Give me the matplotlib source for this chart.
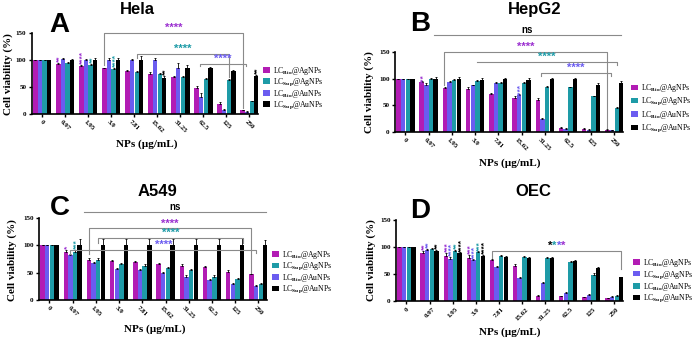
import matplotlib
matplotlib.use('Agg')
import matplotlib.pyplot as plt
import numpy as np

plt.rcParams['font.family'] = ['Liberation Serif', 'DejaVu Serif']
plt.rcParams['mathtext.fontset'] = 'custom'
plt.rcParams['mathtext.rm'] = 'Liberation Serif:bold'
plt.rcParams['mathtext.it'] = 'Liberation Serif:bold:italic'
plt.rcParams['mathtext.bf'] = 'Liberation Serif:bold'

categories = ['0', '0.97', '1.95', '3.9', '7.81', '15.62', '31.25', '62.5', '125', '250']

# bar order inside each group: magenta, violet, teal, black
# Panel A - Hela
hela_mag = [100, 92, 88, 85, 80, 75, 69, 49, 19, 7]
hela_vio = [100, 102, 100, 100, 100, 100, 86, 32, 7, 4]
hela_teal = [100, 94, 90, 84, 78, 74, 69, 65, 63, 24]
hela_blk = [100, 100, 100, 100, 100, 66, 86, 86, 79, 70]
hela_err = [[0, 3, 3, 1, 2, 2, 2, 2, 3, 1],
            [0, 2, 2, 3, 2, 3, 8, 6, 2, 1],
            [0, 2, 3, 2, 2, 2, 1, 2, 2, 1],
            [0, 2, 3, 3, 8, 4, 4, 1, 3, 2]]

# Panel B - HepG2
hepg2_mag = [100, 93, 82, 81, 72, 64, 60, 8, 6, 4]
hepg2_vio = [100, 89, 94, 88, 91, 69, 24, 6, 4, 3]
hepg2_teal = [100, 100, 98, 96, 92, 92, 85, 84, 67, 45]
hepg2_blk = [100, 100, 100, 98, 100, 98, 99, 99, 89, 92]
hepg2_err = [[0, 3, 2, 3, 2, 3, 3, 1, 1, 1],
             [0, 2, 2, 1, 2, 3, 2, 1, 1, 1],
             [0, 1, 1, 1, 2, 1, 1, 1, 1, 1],
             [0, 3, 3, 3, 2, 3, 2, 2, 2, 3]]

# Panel C - A549
a549_mag = [100, 88, 74, 72, 70, 65, 63, 61, 51, 47]
a549_vio = [100, 82, 67, 56, 54, 50, 43, 36, 30, 26]
a549_teal = [100, 88, 74, 66, 62, 58, 54, 43, 39, 29]
a549_blk = [100, 100, 100, 100, 100, 100, 100, 100, 100, 100]
a549_err = [[0, 4, 3, 2, 2, 3, 2, 2, 4, 1],
            [0, 2, 2, 3, 3, 2, 2, 2, 2, 1],
            [0, 3, 2, 1, 3, 2, 2, 2, 2, 2],
            [0, 12, 12, 12, 12, 12, 12, 12, 14, 10]]

# Panel D - OEC
oec_mag = [100, 88, 84, 80, 75, 65, 10, 9, 7, 5]
oec_vio = [100, 94, 78, 75, 63, 43, 33, 14, 12, 8]
oec_teal = [100, 96, 92, 90, 84, 82, 80, 73, 48, 10]
oec_blk = [100, 93, 88, 84, 82, 80, 80, 74, 62, 44]
oec_err = [[0, 5, 5, 5, 3, 3, 1, 1, 1, 1],
           [0, 3, 3, 2, 1, 1, 2, 2, 1, 1],
           [0, 2, 2, 2, 1, 1, 1, 1, 4, 1],
           [0, 2, 2, 1, 1, 1, 1, 1, 1, 1]]

lab_abc = [r'LC$_{\mathrm{Bio}}$@AgNPs', r'LC$_{\mathrm{Bio}}$@AuNPs',
           r'LC$_{\mathrm{Sup}}$@AgNPs', r'LC$_{\mathrm{Sup}}$@AuNPs']
lab_d = [r'LC$_{\mathrm{Bio}}$@AgNPs', r'LC$_{\mathrm{Sup}}$@AgNPs',
         r'LC$_{\mathrm{Bio}}$@AuNPs', r'LC$_{\mathrm{Sup}}$@AuNPs']

MAG = '#B21CB4'
VIO = '#6B5CF0'
TEAL = '#1E9BA7'
BLK = '#000000'
PUR = '#9B30D0'
GRAY = '#8a8a8a'
colors = [MAG, VIO, TEAL, BLK]
offsets = np.array([-0.3, -0.1, 0.1, 0.3])
WIDTH = 0.19

fig = plt.figure(figsize=(6.92, 3.38), dpi=100)


def draw(rect, series, errs, labels, legend_order, rot, leg_anchor, leg_space):
    ax = fig.add_axes(rect)
    x = np.arange(len(categories))
    bars = []
    for i, (vals, e) in enumerate(zip(series, errs)):
        b = ax.bar(x + offsets[i], vals, WIDTH, color=colors[i],
                   yerr=[np.zeros(len(e)), e],
                   error_kw=dict(ecolor='black', elinewidth=0.6, capsize=1.0, capthick=0.6))
        bars.append(b)
    ax.set_xlim(-0.45, 9.37)
    ax.set_ylim(0, 150)
    ax.set_yticks([0, 50, 100, 150])
    ax.set_xticks(x)
    ax.set_xticklabels(categories, rotation=rot, ha='center', fontsize=5, fontweight='bold')
    for t in ax.get_yticklabels():
        t.set_fontsize(5)
        t.set_fontweight('bold')
    for s in ['top', 'right']:
        ax.spines[s].set_visible(False)
    for s in ['left', 'bottom']:
        ax.spines[s].set_linewidth(1.2)
    ax.tick_params(axis='both', length=2.5, width=1.0, pad=1.5)
    ax.legend([bars[i] for i in legend_order], [labels[i] for i in legend_order],
              loc='center left', bbox_to_anchor=leg_anchor, bbox_transform=fig.transFigure,
              frameon=False, fontsize=5.6, handlelength=0.9, handleheight=0.7,
              handletextpad=0.35, labelspacing=leg_space, borderpad=0, borderaxespad=0)
    return ax


def vstar(ax, g, s, text, color, top):
    ax.text(g + offsets[s] + 0.07, top + 1.5, text, rotation=90, ha='center', va='bottom',
            fontsize=6, fontweight='bold', color=color, family='Liberation Sans')


def bracket(ax, x1, x2, y, y1, y2, text, tcolor, tsize=8):
    ax.plot([x1, x1, x2, x2], [y1, y, y, y2], color=GRAY, lw=0.8, clip_on=False)
    ax.text((x1 + x2) / 2, y, text, ha='center', va='bottom', fontsize=tsize,
            fontweight='bold', color=tcolor, family='Liberation Sans', clip_on=False)


def titles(title, tx, ty, letter, lx, ly):
    fig.text(tx, ty, title, ha='center', va='center', fontsize=12, fontweight='bold',
             family='Liberation Sans')
    fig.text(lx, ly, letter, ha='center', va='center', fontsize=20, fontweight='bold',
             family='Liberation Sans')


def axlabels(yx, yy, xx, xy):
    fig.text(yx, yy, 'Cell viability (%)', rotation=90, ha='center', va='center',
             fontsize=8, fontweight='bold')
    fig.text(xx, xy, 'NPs (µg/mL)', ha='center', va='center', fontsize=8, fontweight='bold')


# ---------- Panel A ----------
sa = [hela_mag, hela_vio, hela_teal, hela_blk]
axA = draw([0.0462, 0.6627, 0.3266, 0.2396], sa, hela_err, lab_abc, [0, 2, 1, 3], -45,
           (0.380, 0.74), -0.05)
titles('Hela', 0.198, 0.972, 'A', 0.085, 0.925)
axlabels(0.012, 0.78, 0.212, 0.572)
for g, s, t, c in [(1, 0, '**', PUR), (2, 0, '****', PUR), (2, 2, '**', TEAL),
                   (3, 2, '****', TEAL), (5, 3, '**', BLK), (9, 3, '**', BLK)]:
    vstar(axA, g, s, t, c, sa[s][g] + hela_err[s][g])
bracket(axA, 2.7, 8.7, 150, 90, 12, '****', PUR)
bracket(axA, 4.1, 8.1, 111, 104, 68, '****', TEAL)
bracket(axA, 6.84, 8.86, 92, 88, 88, '****', VIO)

# ---------- Panel B ----------
sb = [hepg2_mag, hepg2_vio, hepg2_teal, hepg2_blk]
axB = draw([0.5708, 0.6095, 0.3295, 0.2367], sb, hepg2_err, lab_abc, [0, 2, 1, 3], -45,
           (0.912, 0.68), 0.2)
titles('HepG2', 0.772, 0.972, 'B', 0.607, 0.930)
axlabels(0.534, 0.728, 0.736, 0.517)
for g, s, t, c in [(1, 0, '***', PUR), (5, 1, '****', VIO)]:
    vstar(axB, g, s, t, c, sb[s][g] + hepg2_err[s][g] - 8)
bracket(axB, 1.21, 9.3, 182, 182, 182, 'ns', BLK, tsize=7)
bracket(axB, 1.66, 8.66, 150, 88, 7, '****', PUR)
bracket(axB, 3.07, 9.1, 131, 131, 125, '****', TEAL)
bracket(axB, 5.82, 8.87, 110, 105, 105, '****', VIO)

# ---------- Panel C ----------
sc = [a549_mag, a549_vio, a549_teal, a549_blk]
axC = draw([0.0564, 0.1124, 0.3295, 0.2426], sc, a549_err, lab_abc, [0, 2, 1, 3], -45,
           (0.393, 0.195), -0.05)
titles('A549', 0.228, 0.432, 'C', 0.087, 0.385)
axlabels(0.018, 0.23, 0.224, 0.027)
for g, s, t, c in [(1, 0, '*', PUR), (1, 2, '***', TEAL)]:
    vstar(axC, g, s, t, c, sc[s][g] + a549_err[s][g])
bracket(axC, 1.47, 9.34, 161, 161, 161, 'ns', BLK, tsize=7)
bracket(axC, 1.69, 8.69, 131, 84, 50, '****', PUR)
bracket(axC, 2.1, 8.33, 113, 104, 104, '****', TEAL)
bracket(axC, 0.9, 8.9, 91.5, 84, 86, '****', VIO)

# ---------- Panel D ----------
sd = [oec_mag, oec_vio, oec_teal, oec_blk]
axD = draw([0.5723, 0.1095, 0.328, 0.2396], sd, oec_err, lab_d, [0, 1, 2, 3], 45,
           (0.915, 0.17), 0.0)
titles('OEC', 0.770, 0.432, 'D', 0.607, 0.375)
axlabels(0.536, 0.23, 0.737, 0.018)
for g, s, t, c in [(1, 0, '**', PUR), (1, 1, '**', VIO), (1, 3, '**', BLK),
                   (2, 0, '***', PUR), (2, 1, '****', VIO), (2, 2, '**', TEAL), (2, 3, '****', BLK),
                   (3, 0, '***', PUR), (3, 1, '****', VIO), (3, 2, '***', TEAL), (3, 3, '****', BLK)]:
    vstar(axD, g, s, t, c, sd[s][g] + oec_err[s][g])
axD.plot([3.7, 3.7, 9.3, 9.3], [80, 93, 93, 60], color=GRAY, lw=0.8)
for k, c in enumerate([BLK, TEAL, VIO, PUR]):
    axD.text(6.22 + 0.19 * k, 93, '*', ha='center', va='bottom', fontsize=8,
             fontweight='bold', color=c, family='Liberation Sans')

fig.savefig('out.png', dpi=100)
